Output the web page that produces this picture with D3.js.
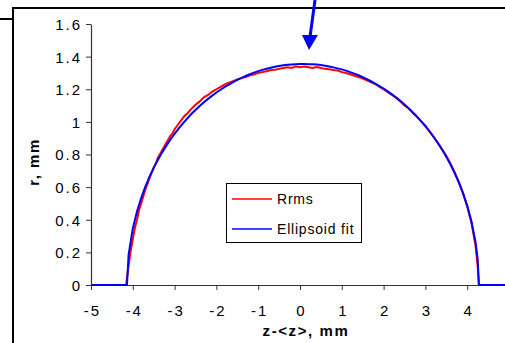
<!DOCTYPE html>
<html><head><meta charset="utf-8">
<script src="https://cdn.jsdelivr.net/npm/d3@7"></script>
<style>html,body{margin:0;padding:0;background:#fff;overflow:hidden}svg{display:block}</style>
</head><body>
<script>
const xTicks = [-5,-4,-3,-2,-1,0,1,2,3,4,5];
const yTicks = [0,0.2,0.4,0.6,0.8,1,1.2,1.4,1.6];
const seriesNames = ["Rrms","Ellipsoid fit"];
const zFit = [-5,-4.14,-4.1,-4.0,-3.9,-3.8,-3.7,-3.6,-3.5,-3.4,-3.3,-3.2,-3.1,-3.0,-2.9,-2.8,-2.7,-2.6,-2.5,-2.4,-2.3,-2.2,-2.1,-2.0,-1.9,-1.8,-1.7,-1.6,-1.5,-1.4,-1.3,-1.2,-1.1,-1.0,-0.9,-0.8,-0.7,-0.6,-0.5,-0.4,-0.3,-0.2,-0.1,0,0.1,0.2,0.3,0.4,0.5,0.6,0.7,0.8,0.9,1.0,1.1,1.2,1.3,1.4,1.5,1.6,1.7,1.8,1.9,2.0,2.1,2.2,2.3,2.4,2.5,2.6,2.7,2.8,2.9,3.0,3.1,3.2,3.3,3.4,3.5,3.6,3.7,3.8,3.9,4.0,4.1,4.2,4.25,4.28,5];
const rFit = [0,0,0.186,0.346,0.451,0.533,0.603,0.664,0.718,0.767,0.812,0.853,0.892,0.927,0.960,0.991,1.020,1.048,1.073,1.097,1.120,1.141,1.161,1.180,1.197,1.214,1.229,1.244,1.257,1.270,1.281,1.292,1.302,1.311,1.319,1.326,1.332,1.338,1.343,1.347,1.350,1.352,1.354,1.355,1.355,1.354,1.353,1.351,1.348,1.344,1.340,1.334,1.328,1.322,1.314,1.305,1.296,1.286,1.274,1.262,1.249,1.235,1.220,1.204,1.187,1.169,1.149,1.129,1.106,1.083,1.058,1.032,1.003,0.973,0.941,0.906,0.869,0.829,0.786,0.738,0.686,0.628,0.563,0.486,0.392,0.263,0.161,0,0];
const zRms = [-5,-4.16,-4.1,-4.05,-4.0,-3.95,-3.9,-3.85,-3.8,-3.7,-3.6,-3.5,-3.45,-3.4,-3.3,-3.2,-3.1,-3.05,-3.0,-2.9,-2.8,-2.75,-2.7,-2.6,-2.5,-2.45,-2.4,-2.3,-2.2,-2.1,-2.0,-1.9,-1.8,-1.7,-1.6,-1.5,-1.4,-1.3,-1.2,-1.1,-1.0,-0.9,-0.8,-0.7,-0.6,-0.5,-0.4,-0.3,-0.2,-0.1,0,0.1,0.2,0.3,0.4,0.5,0.6,0.7,0.8,0.9,1.0,1.1,1.2,1.3,1.4,1.5,1.6,1.7,1.8,1.9,2.0,2.1,2.2,2.3,2.4,2.5,2.6,2.7,2.8,2.9,3.0,3.1,3.2,3.3,3.4,3.5,3.6,3.7,3.8,3.9,4.0,4.1,4.2,4.25,4.28,5];
const rRms = [0,0,0.12,0.21,0.28,0.35,0.40,0.46,0.50,0.585,0.655,0.72,0.745,0.78,0.825,0.87,0.915,0.93,0.955,0.99,1.025,1.04,1.05,1.08,1.105,1.115,1.125,1.15,1.165,1.185,1.20,1.215,1.23,1.24,1.25,1.26,1.268,1.275,1.285,1.29,1.30,1.305,1.31,1.318,1.32,1.325,1.33,1.335,1.33,1.34,1.335,1.34,1.335,1.33,1.336,1.33,1.325,1.322,1.318,1.315,1.305,1.30,1.292,1.283,1.275,1.265,1.255,1.242,1.232,1.215,1.20,1.182,1.165,1.147,1.125,1.10,1.082,1.056,1.03,1.003,0.977,0.942,0.908,0.872,0.832,0.792,0.745,0.692,0.632,0.563,0.482,0.382,0.24,0.12,0,0];

const W = 505, H = 343;
const svg = d3.select("body").append("svg").attr("width", W).attr("height", H);
const font = "Arial, 'Liberation Sans', sans-serif";

const x = d3.scaleLinear().domain([-5,5]).range([91, 509]);
const y = d3.scaleLinear().domain([0,1.6]).range([285, 24]);

// frame lines
svg.append("line").attr("x1",13).attr("y1",8).attr("x2",W).attr("y2",8).attr("stroke","#000").attr("stroke-width",2);
svg.append("line").attr("x1",13).attr("y1",7).attr("x2",13).attr("y2",H).attr("stroke","#000").attr("stroke-width",2);
svg.append("line").attr("x1",0).attr("y1",19).attr("x2",13).attr("y2",19).attr("stroke","#000").attr("stroke-width",2);

const fmt = d => String(+d.toFixed(1));
const gx = svg.append("g").attr("transform","translate(0,285)")
  .call(d3.axisBottom(x).tickValues(xTicks).tickFormat(fmt).tickSize(5).tickSizeOuter(0));
const gy = svg.append("g").attr("transform","translate(91,0)")
  .call(d3.axisLeft(y).tickValues(yTicks).tickFormat(fmt).tickSize(5).tickSizeOuter(0));
[gx,gy].forEach(g=>{
  g.select(".domain").attr("stroke","#333").attr("stroke-width",1.2);
  g.selectAll(".tick line").attr("stroke","#333");
  g.selectAll("text").attr("font-family",font).attr("font-size",15).attr("fill","#000")
    .attr("letter-spacing","2px");
});
gx.selectAll("text").attr("y",31).attr("dy",0).attr("dx",1);
gy.selectAll("text").attr("x",-9).attr("dy","0.36em");

const line = d3.line().x(d=>x(d[0])).y(d=>y(d[1]));
const redData = zRms.map((z,i)=>[z,rRms[i]]);
const blueData = zFit.map((z,i)=>[z,rFit[i]]);
svg.append("path").datum(redData).attr("d",line).attr("fill","none").attr("stroke","#ff0000").attr("stroke-width",2);
svg.append("path").datum(blueData).attr("d",line).attr("fill","none").attr("stroke","#0000ff").attr("stroke-width",2);

// axis titles
svg.append("text").attr("x",306).attr("y",336).attr("text-anchor","middle")
  .attr("font-family",font).attr("font-size",15).attr("font-weight","bold").attr("letter-spacing","1.6px").text("z-<z>, mm");
svg.append("text").attr("transform","translate(39,162) rotate(-90)").attr("text-anchor","middle")
  .attr("font-family",font).attr("font-size",15).attr("font-weight","bold").attr("letter-spacing","1.5px").text("r, mm");

// legend
const lg = svg.append("g");
lg.append("rect").attr("x",226.5).attr("y",183.5).attr("width",135).attr("height",59).attr("fill","#fff").attr("stroke","#000").attr("stroke-width",1);
const colors = ["#ff0000","#0000ff"];
seriesNames.forEach((n,i)=>{
  const yy = 199 + i*30;
  lg.append("line").attr("x1",232).attr("x2",272).attr("y1",yy).attr("y2",yy).attr("stroke",colors[i]).attr("stroke-width",1.5);
  lg.append("text").attr("x",277).attr("y",yy+5).attr("font-family",font).attr("font-size",14).attr("letter-spacing","0.8px").text(n);
});

// arrow
svg.append("line").attr("x1",315).attr("y1",0).attr("x2",310).attr("y2",37).attr("stroke","#0000ff").attr("stroke-width",3);
svg.append("path").attr("d","M302,35 L318,35 L309,50 Z").attr("fill","#0000ff");
</script>
</body></html>
